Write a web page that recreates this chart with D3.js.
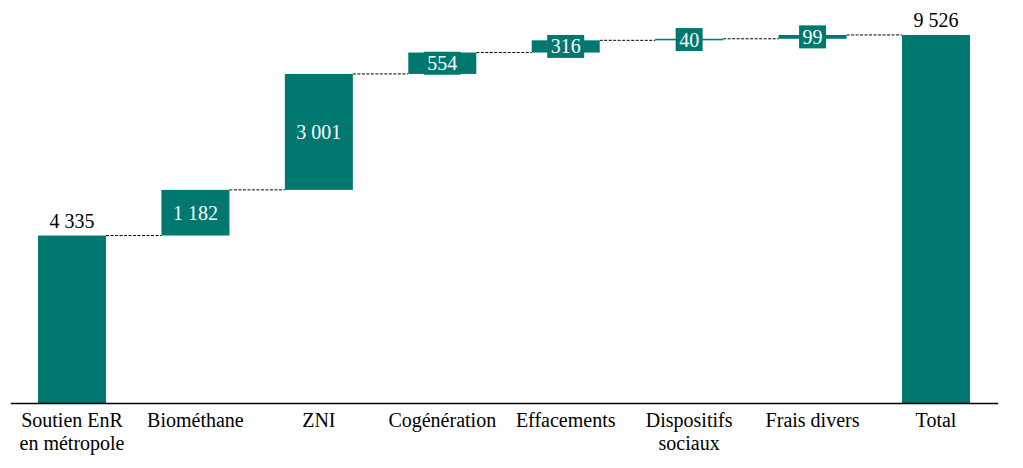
<!DOCTYPE html>
<html>
<head>
<meta charset="utf-8">
<script src="https://cdn.jsdelivr.net/npm/d3@7"></script>
<style>
  body { margin: 0; background: #fff; }
  text { font-family: "Palatino Linotype", "Book Antiqua", Palatino, "Liberation Serif", serif; }
</style>
</head>
<body>
<div class="canvas"></div>
<script>
// data
const categories = ["Soutien EnR\nen métropole", "Biométhane", "ZNI", "Cogénération", "Effacements", "Dispositifs\nsociaux", "Frais divers", "Total"]
const values = [4335, 1182, 3001, 554, 316, 40, 99, 9526]
const kinds = ["total", "delta", "delta", "delta", "delta", "delta", "delta", "total"]

const width = 1023
const height = 468
const teal = '#00786f'

const svg = d3.select('.canvas').append('svg').attr('width', width).attr('height', height)

// scales
const x = d3.scaleBand().domain(categories).range([10.3, 997.7]).paddingInner(0.449).paddingOuter(0.2245)
const y = d3.scaleLinear().domain([0, 9526]).range([403, 35])

const fr = d3.formatLocale({decimal: ',', thousands: '\u00a0', grouping: [3], currency: ['', ' €']})
const fmt = fr.format(',d')

// running totals
let run = 0
const bars = categories.map((c, i) => {
  let start, end
  if (kinds[i] === 'total') { start = 0; end = values[i]; run = values[i] }
  else { start = run; end = run + values[i]; run = end }
  return {cat: c, value: values[i], kind: kinds[i], start, end}
})

// connectors
const conn = svg.append('g')
bars.slice(0, -1).forEach((d, i) => {
  const next = bars[i + 1]
  conn.append('line')
    .attr('x1', x(d.cat) + x.bandwidth()).attr('x2', x(next.cat))
    .attr('y1', y(d.end)).attr('y2', y(d.end))
    .attr('stroke', '#000').attr('stroke-width', 1).attr('stroke-dasharray', '3,1.5')
})

// bars
svg.append('g').selectAll('rect').data(bars).enter().append('rect')
  .attr('x', d => x(d.cat))
  .attr('width', x.bandwidth())
  .attr('y', d => y(Math.max(d.start, d.end)))
  .attr('height', d => Math.max(1.2, Math.abs(y(d.start) - y(d.end))))
  .attr('fill', teal)

// axis line
const xAxis = d3.axisBottom(x).tickSize(0).tickSizeOuter(0).tickFormat('')
const xAxisGroup = svg.append('g').attr('transform', 'translate(0,403)').call(xAxis)
xAxisGroup.select('.domain').attr('stroke', '#000').attr('stroke-width', 1.3)

// category labels (one text per line)
const cl = svg.append('g')
bars.forEach(d => {
  d.cat.split('\n').forEach((line, k) => {
    cl.append('text')
      .attr('text-anchor', 'middle')
      .attr('font-size', 20)
      .attr('fill', '#000')
      .attr('x', x(d.cat) + x.bandwidth() / 2)
      .attr('y', 427 + k * 22.5)
      .text(line)
  })
})

// value labels
const lab = svg.append('g')
bars.forEach(d => {
  const cx = x(d.cat) + x.bandwidth() / 2
  if (d.kind === 'total') {
    lab.append('text').attr('x', cx).attr('y', y(d.end) - 8)
      .attr('text-anchor', 'middle').attr('font-size', 20).attr('fill', '#000').text(fmt(d.value))
  } else {
    const cy = (y(d.start) + y(d.end)) / 2
    const g = lab.append('g')
    const box = g.append('rect').attr('fill', teal)
    const t = g.append('text').attr('x', cx).attr('y', cy).attr('dy', '0.35em')
      .attr('text-anchor', 'middle').attr('font-size', 20).attr('fill', '#fff').text(fmt(d.value))
    const bb = t.node().getBBox()
    box.attr('x', cx - bb.width / 2 - 3.5).attr('width', bb.width + 7)
      .attr('y', cy - 11.5).attr('height', 23)
  }
})
</script>
</body>
</html>
